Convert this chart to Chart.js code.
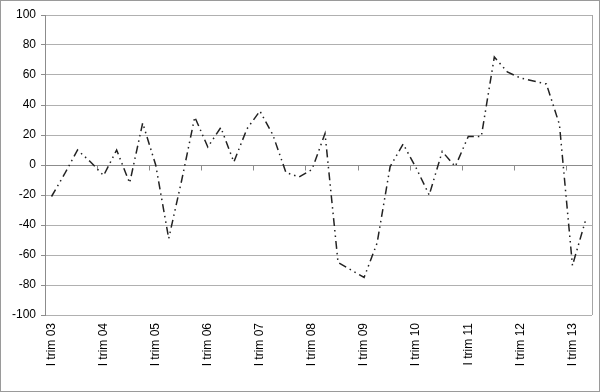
<!DOCTYPE html>
<html>
<head>
<meta charset="utf-8">
<script src="https://cdn.jsdelivr.net/npm/chart.js@4"></script>
<style>
  html, body { margin: 0; padding: 0; background: #fff; }
  #wrap { width: 600px; height: 392px; position: relative; }
</style>
</head>
<body>
<div id="wrap"><canvas id="chart"></canvas></div>
<script>
// quarters 2003 Q1 .. 2013 Q2
const years = ['03', '04', '05', '06', '07', '08', '09', '10', '11', '12', '13'];
const quarters = ['I', 'II', 'III', 'IV'];
const values = [
  -21, -6, 10, 2, -7, 10, -12, 28,
  0, -49, -10, 32, 12, 25, 2, 24,
  36, 20, -5, -8, -3, 21, -65, -70,
  -75, -52, -1, 14, -2, -20, 9, -1,
  19, 19, 72, 62, 58, 56, 54, 27,
  -67, -37
];
const yTicks = [-100, -80, -60, -40, -20, 0, 20, 40, 60, 80, 100];

const labels = [];
years.forEach(y => quarters.forEach(q => labels.push(q + ' trim ' + y)));
labels.length = values.length;

// frame, plot border and the category axis sitting on the zero line
const framePlugin = {
  id: 'frame',
  beforeDraw(chart) {
    const c = chart.ctx;
    c.save();
    c.fillStyle = '#fff';
    c.fillRect(0, 0, chart.width, chart.height);
    c.strokeStyle = '#9a9a9a';
    c.lineWidth = 1;
    c.strokeRect(0.5, 0.5, chart.width - 1, chart.height - 1);
    c.restore();
  },
  beforeDatasetsDraw(chart) {
    const c = chart.ctx, a = chart.chartArea;
    const xs = chart.scales.x, ys = chart.scales.y;
    c.save();
    c.strokeStyle = '#a6a6a6';
    c.lineWidth = 1;
    c.beginPath();
    c.moveTo(Math.round(a.right) + 0.5, a.top);
    c.lineTo(Math.round(a.right) + 0.5, a.bottom);
    c.stroke();
    const y0 = Math.round(ys.getPixelForValue(0)) + 0.5;
    c.strokeStyle = '#8c8c8c';
    c.beginPath();
    c.moveTo(a.left, y0);
    c.lineTo(a.right, y0);
    const step = xs.getPixelForValue(1) - xs.getPixelForValue(0);
    for (let i = 0; i <= values.length; i += 4) {
      const x = Math.round(xs.getPixelForValue(i) - step / 2) + 0.5;
      c.moveTo(x, y0);
      c.lineTo(x, y0 + 5);
    }
    c.stroke();
    c.restore();
  }
};

new Chart(document.getElementById('chart'), {
  type: 'line',
  data: {
    labels: labels,
    datasets: [{
      data: values,
      borderColor: '#222',
      borderWidth: 1.5,
      borderDash: [8, 4, 1.5, 4, 1.5, 4],
      borderCapStyle: 'butt',
      pointRadius: 0,
      tension: 0,
      fill: false
    }]
  },
  options: {
    responsive: true,
    maintainAspectRatio: false,
    animation: false,
    layout: { padding: { top: 15, right: 8, bottom: 0, left: 0 } },
    plugins: { legend: { display: false }, tooltip: { enabled: false } },
    scales: {
      x: {
        offset: true,
        grid: { display: false, drawTicks: false },
        border: { display: false },
        ticks: {
          autoSkip: false,
          minRotation: 90,
          maxRotation: 90,
          padding: 8,
          color: '#000',
          font: { family: 'Liberation Sans, Arial, sans-serif', size: 12 },
          callback: function(v, i) { return i % 4 === 0 ? this.getLabelForValue(v) : ''; }
        },
        afterFit(s) { s.height = 77; s.paddingLeft = 0; s.paddingRight = 0; }
      },
      y: {
        min: -100,
        max: 100,
        afterBuildTicks(s) { s.ticks = yTicks.map(v => ({ value: v })); },
        grid: { color: '#b0b0b0', tickLength: 4, tickColor: '#8c8c8c' },
        border: { color: '#8c8c8c' },
        ticks: {
          padding: 5,
          color: '#000',
          font: { family: 'Liberation Sans, Arial, sans-serif', size: 12 }
        },
        afterFit(s) { s.width = 45; }
      }
    }
  },
  plugins: [framePlugin]
});
</script>
</body>
</html>
